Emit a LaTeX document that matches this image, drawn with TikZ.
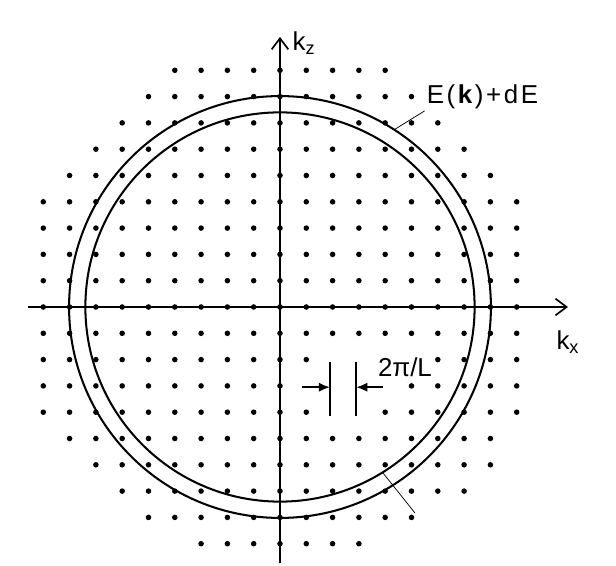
\documentclass[tikz,border=0pt]{standalone}
\usepackage{fontspec}
\setmainfont{Liberation Sans}
\usetikzlibrary{arrows.meta}
\begin{document}
\begin{tikzpicture}[x=0.5cm,y=0.5cm,
  >={Straight Barb[length=6pt,width=9pt]},
  axis/.style={line width=0.9pt,->},
  shell/.style={line width=1.1pt},
  lattice/.style={fill=black},
  dimline/.style={line width=0.9pt},
  dimarrow/.style={line width=0.9pt,-{Latex[length=6pt,width=5pt]}},
  lbl/.style={font=\fontsize{14}{16}\selectfont,inner sep=1pt}]
\useasboundingbox (-10.646,-9.81) rectangle (12.776,11.673);
% lattice points (k-space grid)
\foreach \j/\a/\b in {9/-4/4, 8/-5/5, 7/-6/6, 6/-7/7, 5/-8/8,
    4/-9/9, 3/-9/9, 2/-9/9, 1/-9/9, 0/-9/9, -1/-9/9,
    -2/-9/1, -2/6/9, -3/-9/0, -3/5/9, -4/-9/1, -4/4/9,
    -5/-8/8, -6/-7/8, -7/-6/7, -8/-5/5, -9/-3/3}
  \foreach \i in {\a,...,\b}
    \fill[lattice] (\i,\j) circle (1.5pt);
% shells E(k) and E(k)+dE
\draw[shell] (0,0) circle (7.4);
\draw[shell] (0,0) circle (8.02);
% axes
\coordinate (xs) at (-9.58,0);
\coordinate (xe) at (10.95,0);
\coordinate (zs) at (0,-9.75);
\coordinate (ze) at (0,10.27);
\draw[axis] (xs) -- (xe);
\draw[axis] (zs) -- (ze);
\node[lbl,anchor=west] (kz) at (0.4,10.05) {k\textsubscript{z}};
\node[lbl] (kx) at (10.95,-1.33) {k\textsubscript{x}};
% shell labels
\node[lbl,anchor=west] (elabel) at (5.5,8.0)
  {\addfontfeature{LetterSpace=10}E(\textbf{k})+dE};
\coordinate (eouter) at (57.2:8.02);
\draw[thin] (elabel.south west) -- (eouter);
\coordinate (einner) at (-58.2:7.4);
\coordinate (eend) at (5.13,-7.83);
\draw[thin] (einner) -- (eend);
% grid spacing
\coordinate (b1t) at (1.9,-2.1);
\coordinate (b1b) at (1.9,-4.15);
\coordinate (b2t) at (2.9,-2.1);
\coordinate (b2b) at (2.9,-4.15);
\coordinate (b1m) at (1.9,-3.05);
\coordinate (b2m) at (2.9,-3.05);
\coordinate (a1) at (0.84,-3.05);
\coordinate (a2) at (3.9,-3.05);
\draw[dimline] (b1t) -- (b1b);
\draw[dimline] (b2t) -- (b2b);
\draw[dimarrow] (a1) -- (b1m);
\draw[dimarrow] (a2) -- (b2m);
\node[lbl] (period) at (4.75,-2.28) {2π/L};
\end{tikzpicture}
\end{document}
